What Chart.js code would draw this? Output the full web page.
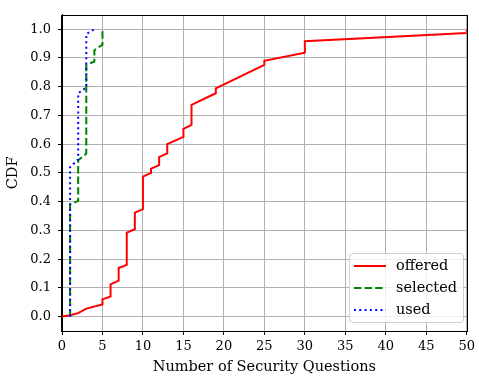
<!DOCTYPE html>
<html>
<head>
<meta charset="utf-8">
<script src="https://cdn.jsdelivr.net/npm/chart.js@4/dist/chart.umd.min.js"></script>
<style>
  html, body { margin: 0; padding: 0; background: #fff; }
  #wrap { width: 479px; height: 379px; }
</style>
</head>
<body>
<div id="wrap"><canvas id="c" width="479" height="379"></canvas></div>
<script>
// Empirical CDFs of the number of security questions
const offeredX = [0, 1, 2, 3, 5, 5, 6, 6, 7, 7, 8, 8, 9, 9, 10, 10, 11, 11, 12, 12, 13, 13, 15, 15, 16, 16, 19, 19, 25, 25, 30, 30, 50, 50];
const offeredY = [0.0, 0.005, 0.012, 0.028, 0.042, 0.06, 0.07, 0.112, 0.125, 0.169, 0.18, 0.292, 0.304, 0.362, 0.374, 0.487, 0.50, 0.515, 0.527, 0.555, 0.568, 0.60, 0.625, 0.653, 0.667, 0.737, 0.777, 0.794, 0.876, 0.89, 0.918, 0.958, 0.987, 1.0];

const selectedX = [1, 1, 2, 2, 3, 3, 4, 4, 5, 5];
const selectedY = [0.0, 0.39, 0.403, 0.544, 0.567, 0.876, 0.887, 0.927, 0.946, 1.0];

const usedX = [1, 1, 2, 2, 3, 3, 4];
const usedY = [0.0, 0.52, 0.547, 0.777, 0.797, 0.983, 1.0];

const seriesNames = ['offered', 'selected', 'used'];
const xTickValues = [0, 5, 10, 15, 20, 25, 30, 35, 40, 45, 50];
const yTickValues = [0.0, 0.1, 0.2, 0.3, 0.4, 0.5, 0.6, 0.7, 0.8, 0.9, 1.0];

const FONT = "'DejaVu Serif', 'Liberation Serif', serif";
const TICK_SIZE = 13;
const LABEL_SIZE = 14.5;

function toPoints(xs, ys) {
  return xs.map((x, i) => ({ x: x, y: ys[i] }));
}

// Frame around the plotting area plus an in-plot legend box
const framePlugin = {
  id: 'frame',
  afterDatasetsDraw(chart) {
    const { ctx, chartArea: a } = chart;
    ctx.save();
    ctx.strokeStyle = '#000';
    ctx.lineWidth = 1;
    ctx.strokeRect(Math.round(a.left) - 0.5, Math.round(a.top) + 0.5,
                   Math.round(a.right - a.left) + 1, Math.round(a.bottom - a.top));
    ctx.restore();

    // legend
    const bx = 349.5, by = 253.5, bw = 114, bh = 69, r = 3;
    ctx.save();
    ctx.beginPath();
    ctx.moveTo(bx + r, by);
    ctx.lineTo(bx + bw - r, by);
    ctx.quadraticCurveTo(bx + bw, by, bx + bw, by + r);
    ctx.lineTo(bx + bw, by + bh - r);
    ctx.quadraticCurveTo(bx + bw, by + bh, bx + bw - r, by + bh);
    ctx.lineTo(bx + r, by + bh);
    ctx.quadraticCurveTo(bx, by + bh, bx, by + bh - r);
    ctx.lineTo(bx, by + r);
    ctx.quadraticCurveTo(bx, by, bx + r, by);
    ctx.closePath();
    ctx.fillStyle = 'rgba(255,255,255,0.8)';
    ctx.fill();
    ctx.strokeStyle = '#d0d0d0';
    ctx.lineWidth = 1;
    ctx.stroke();

    chart.data.datasets.forEach((ds, i) => {
      const y = 266 + i * 22;
      ctx.beginPath();
      ctx.setLineDash(ds.borderDash || []);
      ctx.strokeStyle = ds.borderColor;
      ctx.lineWidth = ds.borderWidth;
      ctx.moveTo(354, y);
      ctx.lineTo(386, y);
      ctx.stroke();
      ctx.setLineDash([]);
      ctx.fillStyle = '#000';
      ctx.font = LABEL_SIZE + 'px ' + FONT;
      ctx.textBaseline = 'middle';
      ctx.textAlign = 'left';
      ctx.fillText(ds.label, 396, y);
    });
    ctx.restore();
  }
};

new Chart(document.getElementById('c'), {
  type: 'line',
  data: {
    datasets: [
      {
        label: seriesNames[0],
        data: toPoints(offeredX, offeredY),
        borderColor: '#ff0000',
        borderWidth: 2,
        pointRadius: 0,
        tension: 0,
        fill: false,
        order: 2
      },
      {
        label: seriesNames[1],
        data: toPoints(selectedX, selectedY),
        borderColor: '#008000',
        borderWidth: 2,
        borderDash: [7.4, 3.2],
        pointRadius: 0,
        tension: 0,
        fill: false,
        order: 1
      },
      {
        label: seriesNames[2],
        data: toPoints(usedX, usedY),
        borderColor: '#0000ff',
        borderWidth: 2,
        borderDash: [2, 3.3],
        pointRadius: 0,
        tension: 0,
        fill: false,
        order: 0
      }
    ]
  },
  options: {
    responsive: false,
    animation: false,
    events: [],
    layout: { padding: { left: 0, right: 8, top: 5, bottom: 0 } },
    plugins: {
      legend: { display: false },
      tooltip: { enabled: false }
    },
    scales: {
      x: {
        type: 'linear',
        min: 0,
        max: 50,
        afterBuildTicks(scale) { scale.ticks = xTickValues.map(v => ({ value: v })); },
        afterFit(scale) { scale.height = 48; },
        grid: { color: '#b0b0b0', lineWidth: 1, tickColor: '#000', tickLength: 4, drawTicks: true },
        border: { display: true, color: '#000', width: 1 },
        ticks: {
          color: '#000',
          padding: 4,
          maxRotation: 0,
          autoSkip: false,
          font: { family: FONT, size: TICK_SIZE },
          callback: v => String(v)
        },
        title: {
          display: true,
          text: 'Number of Security Questions',
          color: '#000',
          font: { family: FONT, size: LABEL_SIZE },
          padding: { top: 0, bottom: 3 }
        }
      },
      y: {
        type: 'linear',
        min: -0.05,
        max: 1.05,
        afterBuildTicks(scale) { scale.ticks = yTickValues.map(v => ({ value: v })); },
        afterFit(scale) { scale.width = 62; },
        grid: { color: '#b0b0b0', lineWidth: 1, tickColor: '#000', tickLength: 4, drawTicks: true },
        border: { display: true, color: '#000', width: 1 },
        ticks: {
          color: '#000',
          padding: 7,
          autoSkip: false,
          font: { family: FONT, size: TICK_SIZE },
          callback: v => Number(v).toFixed(1)
        },
        title: {
          display: true,
          text: 'CDF',
          color: '#000',
          font: { family: FONT, size: LABEL_SIZE },
          padding: { top: 5, bottom: 0 }
        }
      }
    }
  },
  plugins: [framePlugin]
});
</script>
</body>
</html>
